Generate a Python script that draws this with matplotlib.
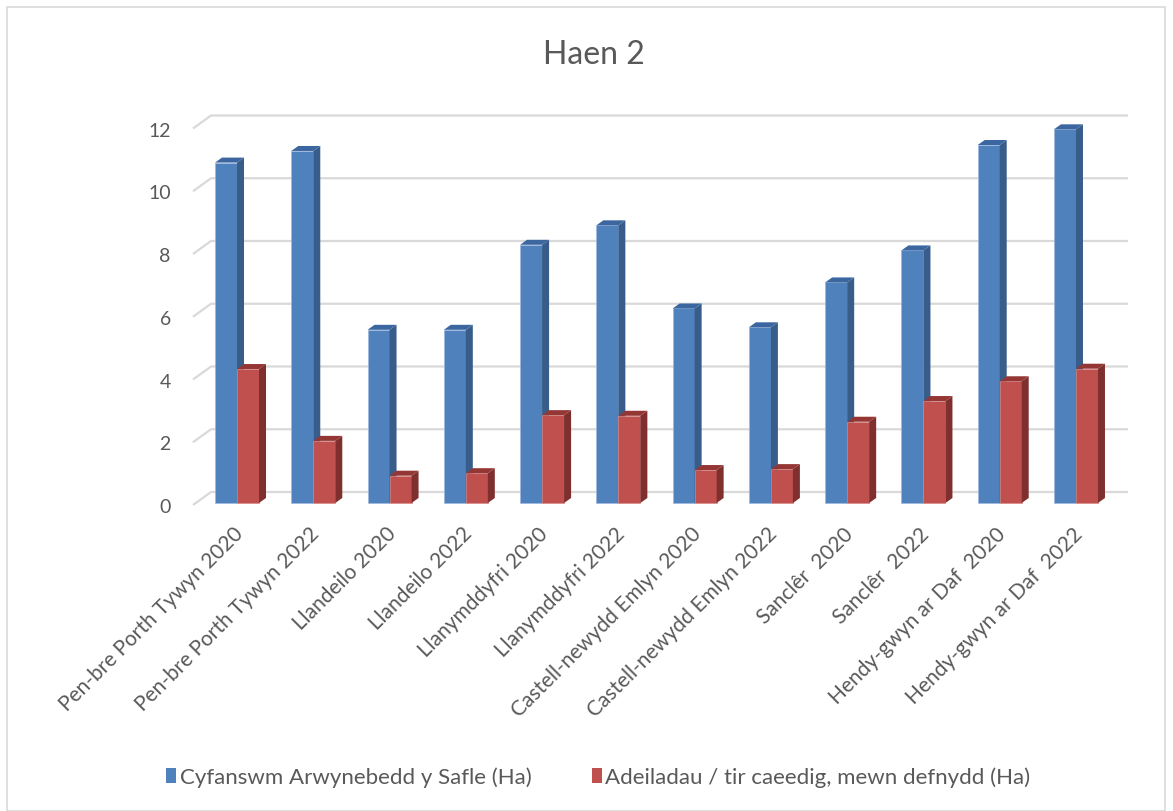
import numpy as np
import matplotlib
matplotlib.use("Agg")
import matplotlib.pyplot as plt
from matplotlib.patches import Polygon, Patch, Rectangle

plt.rcParams['font.family'] = ['Lato', 'DejaVu Sans']

sites = ["Pen-bre Porth Tywyn 2020", "Pen-bre Porth Tywyn 2022", "Llandeilo 2020",
         "Llandeilo 2022", "Llanymddyfri 2020", "Llanymddyfri 2022",
         "Castell-newydd Emlyn 2020", "Castell-newydd Emlyn 2022", "Sanclêr  2020",
         "Sanclêr  2022", "Hendy-gwyn ar Daf  2020", "Hendy-gwyn ar Daf  2022"]
total_area = [10.85, 11.22, 5.52, 5.52, 8.23, 8.85, 6.2, 5.6, 7.03, 8.05, 11.41, 11.91]
buildings = [4.27, 1.98, 0.87, 0.95, 2.80, 2.78, 1.05, 1.08, 2.59, 3.25, 3.88, 4.28]
series_names = ["Cyfanswm Arwynebedd y Safle (Ha)", "Adeiladau / tir caeedig, mewn defnydd (Ha)"]

W, H = 1173, 812
fig = plt.figure(figsize=(W / 100, H / 100), dpi=100)
fig.patches.append(Rectangle((7 / W, 0), (1165 - 7) / W, (H - 8) / H, transform=fig.transFigure,
                             fill=False, edgecolor='#d9d9d9', lw=1.2))

# front plane of the plot area, in pixels
left, right, y0, y12 = 193, 1110, 506, 129.5
ax = fig.add_axes([left / W, (H - y0) / H, (right - left) / W, (y0 - y12) / H])
xmin, xmax = -0.577, 11.446
ax.set_xlim(xmin, xmax)
ax.set_ylim(0, 12)
for s in ax.spines.values():
    s.set_visible(False)
ax.set_xticks([])
ax.set_yticks(range(0, 13, 2))
ax.tick_params(axis='y', length=0, pad=16, labelsize=14, labelcolor='#595959')

px_x = (right - left) / (xmax - xmin)
px_y = (y0 - y12) / 12.0

# gridlines on the floor edge and back wall
gdx, gdy = 18 / px_x, 13 / px_y
for v in range(0, 13, 2):
    ax.plot([xmin, xmin + gdx, xmax + gdx], [v, v + gdy, v + gdy], color='#d9d9d9',
            lw=1.6, clip_on=False, zorder=1, solid_capstyle='butt')

# 3D-ish columns, sitting a little behind the front edge
bw = 22 / px_x
ddx, ddy = 7 / px_x, 5 / px_y
base = 2 / px_y
styles = [('#4f81bd', '#385d8a', '#3c66a0'), ('#c0504d', '#7f302e', '#943634')]
x = np.arange(len(sites))
for i in x:
    for k, vals in enumerate([total_area, buildings]):
        front, side, top = styles[k]
        x0 = i - bw + k * bw
        h = base + vals[i]
        z = 3 + 2 * i + k
        ax.add_patch(Rectangle((x0, base), bw, vals[i], facecolor=front,
                               edgecolor='#9db8dc' if k == 0 else '#d98a88', lw=0.5, zorder=z))
        ax.add_patch(Polygon([(x0 + bw, base), (x0 + bw + ddx, base + ddy), (x0 + bw + ddx, h + ddy), (x0 + bw, h)],
                             facecolor=side, edgecolor='none', zorder=z, clip_on=False))
        ax.add_patch(Polygon([(x0, h), (x0 + ddx, h + ddy), (x0 + bw + ddx, h + ddy), (x0 + bw, h)],
                             facecolor=top, edgecolor='none', zorder=z, clip_on=False))

# category labels
for i, name in enumerate(sites):
    ax.annotate(name, xy=(i, 0), xytext=(3, -25), textcoords='offset pixels',
                rotation=45, ha='right', va='center', rotation_mode='anchor',
                fontsize=15, color='#595959', annotation_clip=False)

fig.text(0.506, (H - 55) / H, "Haen 2", ha='center', va='center', fontsize=23, color='#595959')

handles = [Patch(facecolor=styles[0][0]), Patch(facecolor=styles[1][0])]
fig.legend(handles, series_names, loc='center', bbox_to_anchor=(0.51, (H - 778) / H), ncol=2,
           frameon=False, fontsize=16, labelcolor='#595959', handlelength=0.45, handleheight=0.7,
           handletextpad=0.15, columnspacing=2.7)

fig.savefig("out.png", dpi=100)
